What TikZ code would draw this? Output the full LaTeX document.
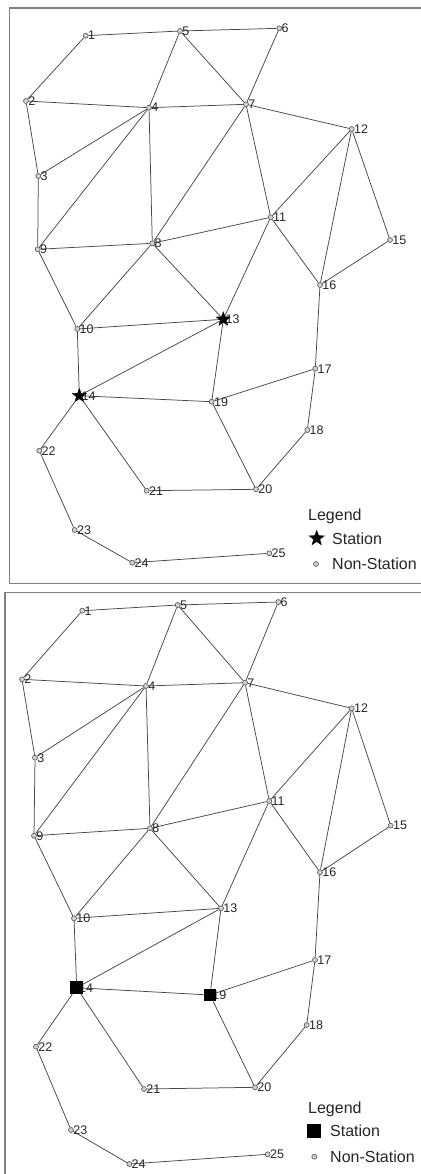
\documentclass[tikz,border=0pt]{standalone}
\usepackage{fontspec}
\setmainfont{Liberation Sans}
\usetikzlibrary{shapes.geometric,backgrounds}
\begin{document}
\begin{tikzpicture}[x=1pt,y=-1pt,
  edge/.style={draw=black!72, line width=0.75pt},
  frame/.style={draw=black!50, line width=1.6pt},
  nonst/.style={circle, draw=black!65, fill=black!18, line width=0.65pt, minimum size=5pt, inner sep=0pt},
  starst/.style={star, star points=5, star point ratio=2.4, fill=black, draw=black, line width=0.3pt, minimum size=15pt, inner sep=0pt},
  sqst/.style={rectangle, fill=black, minimum size=12.5pt, inner sep=0pt},
  lbl/.style={anchor=west, inner sep=0pt, font=\fontsize{12.5}{12.5}\selectfont, text=black!85},
  leg/.style={anchor=west, inner sep=0pt, font=\fontsize{16}{16}\selectfont, text=black!85}]
\useasboundingbox (0,0) rectangle (420,1174);

% panel frames (open on the right)
\draw[frame] (424,8.3) -- (9.3,8.3) -- (9.3,583.3) -- (424,583.3);
\draw[frame] (424,592.3) -- (5,592.3) -- (5,1178);

% upper network: vertex labels first, then vertices
\foreach \n/\x/\y/\s in {
  1/85.7/35.7/nonst, 2/26/101/nonst, 3/38.3/176/nonst, 4/149/107.7/nonst,
  5/180/31/nonst, 6/279.3/28.3/nonst, 7/246/104.3/nonst, 8/152.3/243.3/nonst,
  9/37.7/249.3/nonst, 10/77.3/329/nonst, 11/270.7/217.3/nonst, 12/351.7/129/nonst,
  13/223.3/319.3/starst, 14/79.3/395.7/starst, 15/390/240/nonst, 16/320/285/nonst,
  17/315.3/368.7/nonst, 18/307.3/430/nonst, 19/211.7/401.7/nonst, 20/256/489.3/nonst,
  21/146.7/490.7/nonst, 22/39.3/450.7/nonst, 23/74.7/530/nonst, 24/132.3/562.7/nonst,
  25/269.3/553.3/nonst}
{
  \node[lbl] (la\n) at (\x+2.2,\y) {\n};
  \node[\s] (a\n) at (\x,\y) {};
}

% lower network
\foreach \n/\x/\y/\s in {
  1/82.3/610.7/nonst, 2/22/679.3/nonst, 3/35/757.7/nonst, 4/146/686/nonst,
  5/177.7/605/nonst, 6/278.3/602/nonst, 7/245/682.7/nonst, 8/150/828.3/nonst,
  9/34/835.7/nonst, 10/74/918.3/nonst, 11/269.3/801/nonst, 12/351.7/708.3/nonst,
  13/221/908.3/nonst, 14/76.7/987.7/sqst, 15/390.7/825.7/nonst, 16/320/872.3/nonst,
  17/315/960/nonst, 18/306.7/1025/nonst, 19/210/995/sqst, 20/255/1087.3/nonst,
  21/144/1089/nonst, 22/36/1046.7/nonst, 23/71/1130/nonst, 24/129.3/1164/nonst,
  25/267.7/1154.3/nonst}
{
  \node[lbl] (lb\n) at (\x+2.2,\y) {\n};
  \node[\s] (b\n) at (\x,\y) {};
}

% road links, identical in both networks
\begin{scope}[on background layer]
\foreach \u/\v in {1/5,5/6,1/2,5/4,5/7,6/7,2/4,4/7,7/12,2/3,3/4,4/9,4/8,7/8,
  7/11,12/11,12/16,12/15,3/9,9/8,8/11,11/16,15/16,9/10,8/10,8/13,11/13,16/17,
  10/13,10/14,14/13,13/19,14/19,19/17,17/18,14/22,14/21,19/20,18/20,21/20,
  22/23,23/24,24/25}
{
  \draw[edge] (a\u) -- (a\v);
  \draw[edge] (b\u) -- (b\v);
}
\end{scope}

% legends
\node[leg] (legA) at (308,516.7) {Legend};
\node[starst, minimum size=16pt] (legAstar) at (316.7,538.3) {};
\node[leg] (legAst) at (332,538.3) {Station};
\node[nonst] (legAnon) at (316,564) {};
\node[leg] (legAns) at (332,564) {Non-Station};

\node[leg] (legB) at (308,1109.3) {Legend};
\node[sqst, minimum size=14pt] (legBsq) at (314,1130.7) {};
\node[leg] (legBst) at (330,1130.7) {Station};
\node[nonst] (legBnon) at (314.3,1156.7) {};
\node[leg] (legBns) at (330,1156.7) {Non-Station};
\end{tikzpicture}
\end{document}
